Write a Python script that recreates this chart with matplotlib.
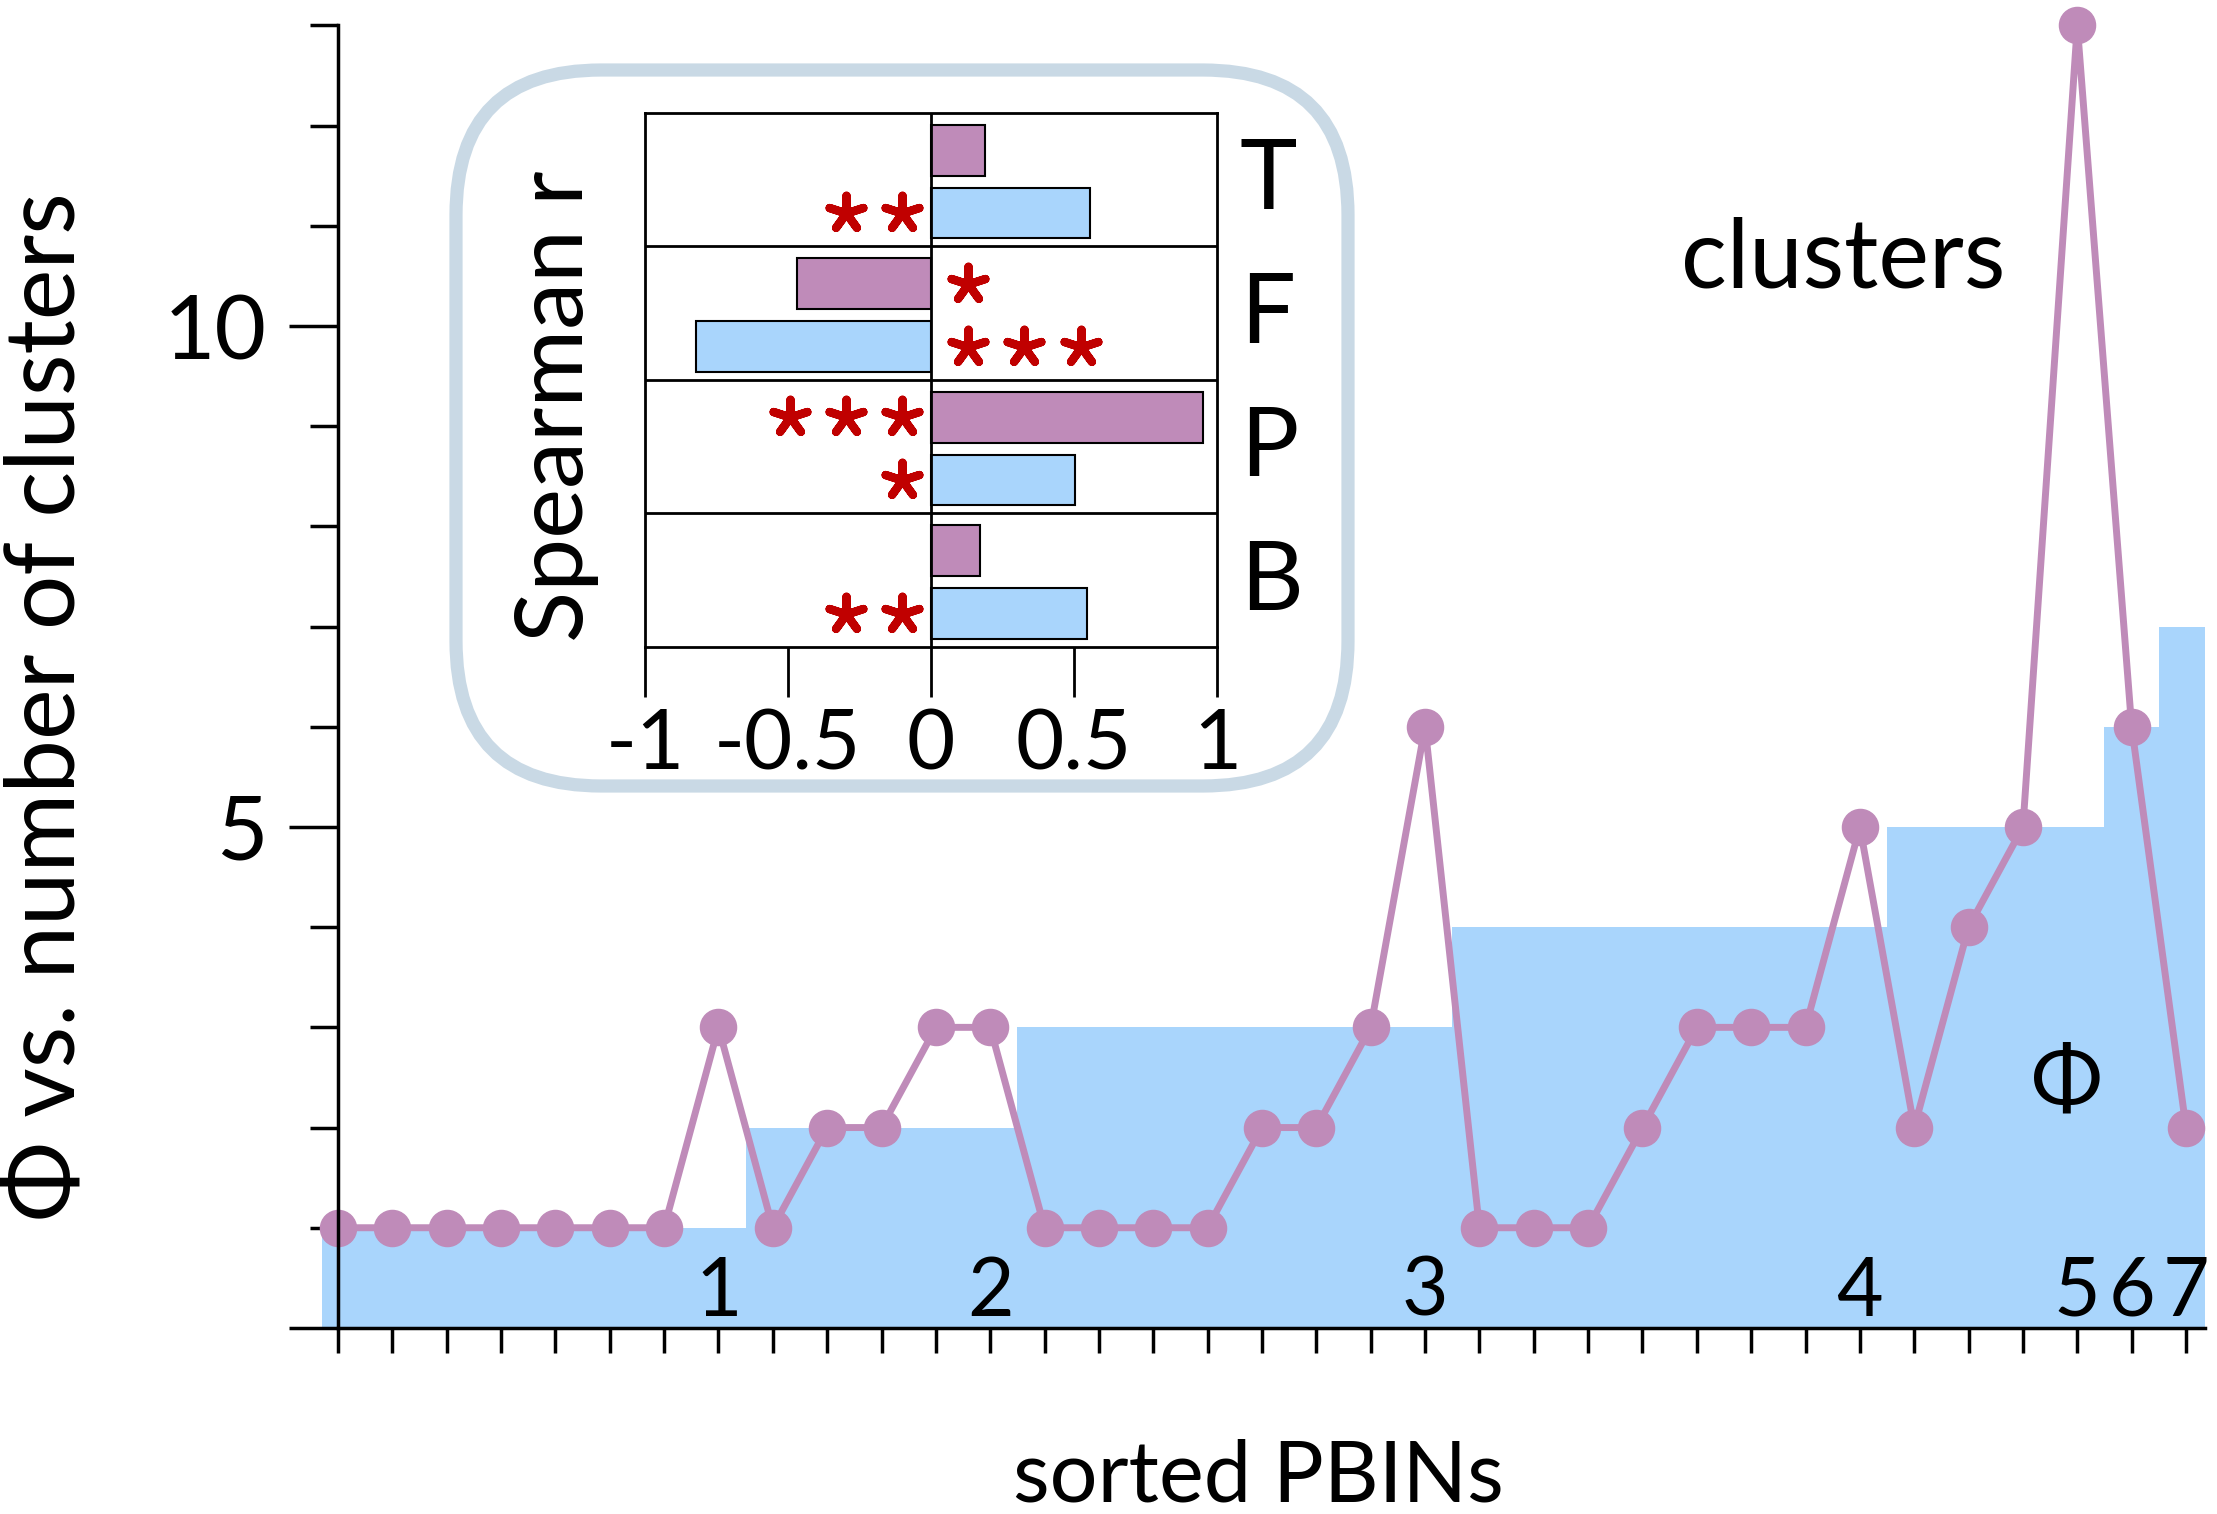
import numpy as np
import matplotlib.pyplot as plt
from matplotlib.patches import FancyBboxPatch

plt.rcParams['font.family'] = ['Lato', 'DejaVu Sans']

# --- data ---
clusters = [1, 1, 1, 1, 1, 1, 1, 3, 1, 2, 2, 3, 3, 1, 1, 1, 1, 2, 2, 3,
            6, 1, 1, 1, 2, 3, 3, 3, 5, 2, 4, 5, 13, 6, 2]
phi_levels = [1, 2, 3, 4, 5, 6, 7]
phi_counts = [8, 5, 8, 8, 4, 1, 1]

groups = ['B', 'P', 'F', 'T']
r_clusters = [0.17, 0.95, -0.47, 0.19]
r_phi = [0.545, 0.505, -0.82, 0.555]
stars_clusters = [0, 3, 1, 0]
stars_phi = [2, 1, 3, 2]

purple = '#bf8bb9'
blue = '#a9d5fc'
red = '#c00000'

x = np.arange(len(clusters))
phi = np.repeat(phi_levels, phi_counts)
edges = np.r_[x[0] - 0.3, (x[:-1] + x[1:]) / 2, x[-1] + 0.35]

fig = plt.figure(figsize=(22.17, 15.14), dpi=100)

# --- main axes ---
ax = fig.add_axes([0.1451, 0.1229, 0.8495, 0.8603])
ax.stairs(phi, edges, fill=True, color=blue, zorder=1)
ax.plot(x, clusters, color=purple, lw=5, marker='o', ms=26, clip_on=False, zorder=3)

# phi level labels at the last PBIN of each level
ends = np.cumsum(phi_counts) - 1
for lev, e in zip(phi_levels, ends):
    ax.text(x[e], 0.12, str(lev), ha='center', va='baseline', fontsize=58)

ax.text(27.7, 10.65, 'clusters', ha='center', va='center', fontsize=69)
ax.text(31.8, 2.44, 'Φ', ha='center', va='center', fontsize=62)

ax.set_xlim(edges[0], edges[-1])
ax.set_ylim(0, 13)
for s in ['top', 'right']:
    ax.spines[s].set_visible(False)
ax.spines['left'].set_position(('data', 0))
ax.spines['left'].set_linewidth(2.5)
ax.spines['bottom'].set_linewidth(2.5)
ax.spines['bottom'].set_bounds(0, edges[-1])
ax.spines['left'].set_zorder(4)

ax.set_xticks(x)
ax.set_xticklabels([])
ax.tick_params(axis='x', direction='out', length=18, width=2.5)
ax.set_yticks([0, 5, 10])
ax.set_yticklabels(['', '5', '10'])
ax.set_yticks(np.arange(0, 14), minor=True)
ax.tick_params(axis='y', which='major', length=35, width=2.5, labelsize=64, pad=16)
ax.tick_params(axis='y', which='minor', length=20, width=2.5)

fig.text(0.5675, 0.024, 'sorted PBINs', ha='center', va='center', fontsize=61)
fig.text(0.022, 0.533, 'Φ vs. number of clusters', rotation=90,
         ha='center', va='center', fontsize=69)

# --- rounded box behind inset ---
box = FancyBboxPatch((4.56, 7.28), 8.92, 7.16,
                     boxstyle='round,pad=0,rounding_size=1.45',
                     transform=fig.dpi_scale_trans, facecolor='white',
                     edgecolor='#c9d9e5', lw=9.5, zorder=1)
fig.patches.append(box)

# --- inset ---
ins = fig.add_axes([0.2909, 0.5727, 0.258, 0.3527], zorder=2)
yk = np.arange(len(groups))
h = 0.38
ins.barh(yk + 0.72, r_clusters, height=h, color=purple, edgecolor='black', lw=1.5)
ins.barh(yk + 0.25, r_phi, height=h, color=blue, edgecolor='black', lw=1.5)
for k in yk[1:]:
    ins.axhline(k, color='black', lw=2)
ins.axvline(0, color='black', lw=2)


def draw_stars(n, r, y):
    if n == 0:
        return
    if r > 0:
        xs = -0.1 - 0.197 * np.arange(n)
    else:
        xs = 0.13 + 0.197 * np.arange(n)
    ins.scatter(xs, np.full(n, y), marker=(5, 2, 0), s=650, color=red,
                lw=6, zorder=3)


for k in yk:
    draw_stars(stars_clusters[k], r_clusters[k], k + 0.72)
    draw_stars(stars_phi[k], r_phi[k], k + 0.25)
    ins.text(1.08, k + 0.48, groups[k], ha='left', va='center', fontsize=70)

ins.set_xlim(-1, 1)
ins.set_ylim(0, len(groups))
ins.set_yticks([])
ins.set_xticks([-1, -0.5, 0, 0.5, 1])
ins.set_xticklabels(['-1', '-0.5', '0', '0.5', '1'])
ins.tick_params(axis='x', length=36, width=2, labelsize=60, pad=8)
for s in ins.spines.values():
    s.set_linewidth(2)
ins.set_ylabel('Spearman r', fontsize=68)
ins.yaxis.set_label_coords(-0.08, 0.45)

fig.savefig('out.png', dpi=100)
